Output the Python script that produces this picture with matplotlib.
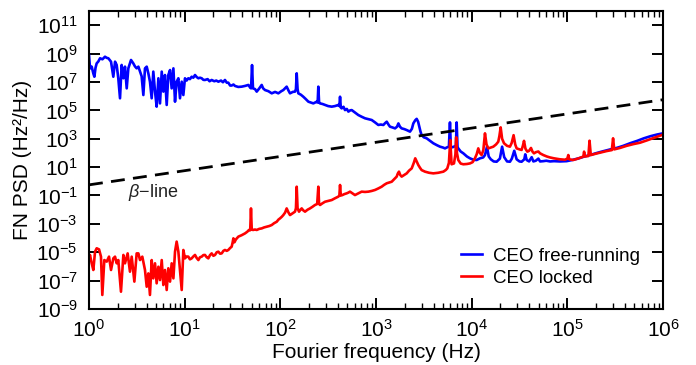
import numpy as np
import matplotlib
matplotlib.use("Agg")
import matplotlib.pyplot as plt
from matplotlib.ticker import FixedLocator, NullLocator, NullFormatter, LogFormatterSciNotation

plt.rcParams['font.family'] = ['Liberation Sans', 'DejaVu Sans']
plt.rcParams['mathtext.fontset'] = 'custom'
plt.rcParams['mathtext.rm'] = 'Liberation Sans'
plt.rcParams['mathtext.it'] = 'Liberation Sans:italic'
plt.rcParams['lines.scale_dashes'] = False

# Frequency-noise PSD, stored as log10(frequency / Hz) and log10(PSD / (Hz^2/Hz))
blue_log_f = [
    0.000, 0.008, 0.017, 0.028, 0.045, 0.056, 0.068, 0.080, 0.098, 0.115, 0.140, 0.167, 0.185, 0.202,
    0.230, 0.254, 0.272, 0.289, 0.306, 0.324, 0.341, 0.359, 0.376, 0.394, 0.411, 0.439, 0.463, 0.480,
    0.498, 0.516, 0.533, 0.550, 0.568, 0.585, 0.603, 0.620, 0.637, 0.655, 0.672, 0.690, 0.707, 0.725,
    0.742, 0.760, 0.777, 0.794, 0.812, 0.829, 0.847, 0.864, 0.882, 0.899, 0.916, 0.934, 0.951, 0.969,
    0.986, 1.003, 1.020, 1.038, 1.055, 1.073, 1.090, 1.108, 1.125, 1.143, 1.160, 1.178, 1.195, 1.212,
    1.240, 1.260, 1.282, 1.310, 1.330, 1.352, 1.380, 1.400, 1.421, 1.440, 1.456, 1.475, 1.491, 1.510,
    1.526, 1.560, 1.596, 1.630, 1.666, 1.685, 1.694, 1.704, 1.714, 1.735, 1.753, 1.780, 1.805, 1.820,
    1.840, 1.875, 1.910, 1.945, 1.979, 2.010, 2.031, 2.066, 2.085, 2.101, 2.130, 2.153, 2.163, 2.171,
    2.180, 2.188, 2.215, 2.240, 2.265, 2.293, 2.320, 2.345, 2.380, 2.390, 2.397, 2.405, 2.415, 2.440,
    2.467, 2.500, 2.537, 2.570, 2.606, 2.617, 2.624, 2.632, 2.641, 2.660, 2.676, 2.695, 2.711, 2.730,
    2.746, 2.780, 2.815, 2.850, 2.885, 2.920, 2.955, 2.990, 3.024, 3.050, 3.077, 3.095, 3.112, 3.130,
    3.146, 3.170, 3.199, 3.220, 3.234, 3.250, 3.268, 3.295, 3.321, 3.340, 3.355, 3.375, 3.390, 3.410,
    3.425, 3.440, 3.453, 3.465, 3.477, 3.500, 3.529, 3.565, 3.599, 3.635, 3.669, 3.700, 3.721, 3.745,
    3.762, 3.773, 3.782, 3.800, 3.815, 3.835, 3.843, 3.852, 3.860, 3.885, 3.913, 3.950, 3.982, 4.017,
    4.052, 4.087, 4.120, 4.139, 4.160, 4.178, 4.200, 4.230, 4.261, 4.295, 4.318, 4.340, 4.370, 4.400,
    4.420, 4.445, 4.470, 4.500, 4.522, 4.550, 4.560, 4.575, 4.600, 4.627, 4.645, 4.670, 4.697, 4.715,
    4.749, 4.780, 4.819, 4.860, 4.923, 4.993, 5.050, 5.120, 5.180, 5.237, 5.300, 5.375, 5.450, 5.515,
    5.585, 5.655, 5.730, 5.800, 5.870, 5.940, 6.000,
]
blue_log_psd = [
    8.90, 8.20, 7.96, 8.08, 7.60, 7.37, 8.00, 8.31, 8.45, 8.67, 8.60, 8.78, 8.70, 8.67,
    8.43, 7.37, 8.43, 8.20, 7.26, 5.85, 8.20, 7.26, 8.08, 6.55, 7.96, 8.55, 8.31, 8.10,
    7.96, 8.08, 7.73, 7.40, 6.08, 7.96, 8.08, 7.61, 7.02, 5.85, 7.73, 6.32, 5.26, 7.26,
    5.49, 7.73, 6.32, 7.49, 5.38, 7.49, 7.84, 6.55, 7.96, 5.61, 7.02, 7.26, 5.85, 7.02,
    6.08, 7.26, 7.10, 7.26, 7.20, 7.37, 7.30, 7.49, 7.35, 7.26, 7.30, 7.26, 7.15, 7.14,
    7.20, 7.05, 7.14, 7.05, 7.10, 7.02, 7.10, 6.98, 7.14, 6.95, 6.95, 6.75, 6.75, 6.82,
    6.72, 6.65, 6.67, 6.72, 6.79, 6.60, 6.55, 8.19, 6.55, 6.50, 6.32, 6.55, 6.79, 6.55,
    6.43, 6.35, 6.20, 6.30, 6.20, 6.35, 6.43, 6.67, 6.40, 6.20, 6.30, 6.32, 6.50, 7.61,
    6.50, 6.20, 6.10, 5.96, 5.80, 5.61, 5.55, 5.49, 5.61, 5.55, 6.67, 5.55, 5.49, 5.45,
    5.38, 5.30, 5.26, 5.30, 5.38, 5.30, 5.96, 5.20, 5.14, 5.25, 5.02, 5.10, 4.91, 5.00,
    5.02, 4.85, 4.67, 4.55, 4.44, 4.38, 4.32, 4.15, 3.97, 4.00, 3.97, 4.10, 4.20, 4.00,
    3.85, 3.80, 3.73, 3.85, 4.08, 3.85, 3.73, 3.68, 3.61, 3.55, 3.50, 3.70, 4.08, 4.30,
    4.40, 4.20, 3.85, 3.50, 3.26, 3.10, 3.03, 2.85, 2.68, 2.55, 2.44, 2.38, 2.32, 2.40,
    2.44, 4.15, 2.44, 2.40, 2.44, 2.50, 4.15, 2.40, 2.32, 2.10, 1.97, 1.75, 1.62, 1.52,
    1.50, 1.62, 1.68, 1.85, 2.44, 1.75, 1.55, 1.40, 1.38, 1.60, 2.44, 1.70, 1.40, 1.38,
    1.60, 2.15, 1.55, 1.40, 1.38, 1.55, 1.90, 1.50, 1.40, 1.70, 1.40, 1.45, 1.60, 1.40,
    1.42, 1.45, 1.40, 1.42, 1.40, 1.42, 1.50, 1.62, 1.75, 1.85, 1.98, 2.12, 2.25, 2.35,
    2.50, 2.68, 2.85, 3.03, 3.18, 3.30, 3.38,
]

red_log_f = [
    0.000, 0.010, 0.028, 0.045, 0.063, 0.080, 0.105, 0.125, 0.139, 0.160, 0.185, 0.209, 0.230, 0.254,
    0.272, 0.289, 0.306, 0.334, 0.359, 0.376, 0.404, 0.428, 0.446, 0.474, 0.498, 0.516, 0.533, 0.557,
    0.585, 0.603, 0.620, 0.637, 0.655, 0.672, 0.690, 0.707, 0.725, 0.742, 0.760, 0.777, 0.794, 0.812,
    0.829, 0.847, 0.864, 0.882, 0.899, 0.916, 0.934, 0.951, 0.969, 0.986, 1.003, 1.020, 1.038, 1.055,
    1.073, 1.090, 1.108, 1.125, 1.143, 1.160, 1.178, 1.195, 1.212, 1.230, 1.247, 1.265, 1.282, 1.300,
    1.317, 1.335, 1.352, 1.370, 1.387, 1.405, 1.421, 1.440, 1.456, 1.475, 1.491, 1.500, 1.509, 1.520,
    1.535, 1.561, 1.595, 1.631, 1.655, 1.672, 1.685, 1.693, 1.701, 1.714, 1.735, 1.753, 1.780, 1.805,
    1.830, 1.857, 1.885, 1.910, 1.935, 1.962, 1.980, 1.997, 2.015, 2.031, 2.050, 2.066, 2.085, 2.101,
    2.130, 2.153, 2.163, 2.171, 2.180, 2.195, 2.210, 2.223, 2.240, 2.258, 2.285, 2.310, 2.335, 2.362,
    2.385, 2.397, 2.405, 2.415, 2.440, 2.467, 2.500, 2.537, 2.570, 2.606, 2.617, 2.624, 2.632, 2.648,
    2.670, 2.693, 2.710, 2.728, 2.755, 2.780, 2.815, 2.850, 2.885, 2.920, 2.955, 2.990, 3.025, 3.059,
    3.085, 3.112, 3.140, 3.164, 3.190, 3.216, 3.228, 3.240, 3.253, 3.268, 3.295, 3.321, 3.345, 3.373,
    3.395, 3.410, 3.425, 3.442, 3.460, 3.477, 3.512, 3.555, 3.599, 3.650, 3.704, 3.730, 3.745, 3.762,
    3.776, 3.790, 3.815, 3.830, 3.838, 3.846, 3.860, 3.885, 3.913, 3.950, 3.982, 4.010, 4.034, 4.052,
    4.069, 4.085, 4.104, 4.122, 4.139, 4.155, 4.174, 4.200, 4.226, 4.255, 4.278, 4.290, 4.303, 4.318,
    4.338, 4.370, 4.400, 4.418, 4.438, 4.455, 4.470, 4.500, 4.522, 4.535, 4.547, 4.562, 4.582, 4.600,
    4.620, 4.635, 4.651, 4.670, 4.697, 4.715, 4.749, 4.785, 4.819, 4.860, 4.923, 4.975, 5.000, 5.010,
    5.020, 5.060, 5.110, 5.167, 5.175, 5.185, 5.220, 5.232, 5.245, 5.300, 5.360, 5.410, 5.465, 5.478,
    5.490, 5.550, 5.620, 5.690, 5.760, 5.830, 5.900, 5.960, 6.000,
]
red_log_psd = [
    -5.50, -5.19, -5.78, -6.25, -4.96, -4.72, -4.80, -5.31, -8.01, -5.55, -5.66, -5.31, -6.25, -5.43,
    -5.31, -5.78, -5.55, -7.78, -5.19, -5.78, -5.08, -6.37, -5.31, -7.07, -5.08, -5.08, -5.55, -5.31,
    -6.25, -7.43, -6.49, -8.01, -5.55, -6.84, -5.78, -7.19, -6.02, -6.96, -5.55, -7.31, -6.25, -7.66,
    -6.13, -7.07, -5.78, -6.84, -4.96, -4.25, -4.96, -6.25, -7.66, -4.84, -5.43, -5.30, -5.31, -5.50,
    -5.43, -5.30, -5.19, -5.40, -5.55, -5.35, -5.31, -5.20, -5.19, -5.35, -5.43, -5.20, -5.08, -5.25,
    -5.19, -5.00, -4.96, -5.10, -5.08, -4.90, -4.84, -4.90, -4.84, -4.70, -4.61, -4.35, -4.02, -4.30,
    -4.10, -3.90, -3.80, -3.67, -3.55, -3.43, -3.45, -1.91, -3.40, -3.43, -3.40, -3.43, -3.35, -3.32,
    -3.25, -3.20, -3.15, -3.08, -2.95, -2.85, -2.70, -2.61, -2.50, -2.38, -2.20, -1.91, -2.20, -2.38,
    -2.25, -2.14, -1.90, -0.38, -1.90, -2.14, -2.00, -1.91, -2.05, -2.14, -2.00, -1.91, -1.80, -1.67,
    -1.60, -0.38, -1.60, -1.67, -1.55, -1.44, -1.38, -1.32, -1.20, -1.08, -1.00, -0.26, -1.00, -0.97,
    -0.90, -0.85, -0.80, -0.73, -0.85, -0.97, -0.85, -0.73, -0.75, -0.73, -0.68, -0.61, -0.50, -0.38,
    -0.25, -0.14, -0.08, -0.03, 0.15, 0.33, 0.55, 0.68, 0.45, 0.33, 0.45, 0.56, 0.75, 0.91,
    1.30, 1.62, 1.40, 1.15, 0.95, 0.79, 0.68, 0.60, 0.56, 0.60, 0.68, 0.80, 0.91, 1.30,
    2.90, 1.20, 1.26, 1.90, 3.10, 2.00, 1.50, 1.25, 1.20, 1.22, 1.26, 1.35, 1.62, 1.90,
    2.32, 2.00, 1.85, 2.20, 3.38, 2.60, 2.32, 2.38, 2.44, 2.60, 2.79, 3.20, 3.80, 3.00,
    2.68, 2.50, 2.44, 2.70, 3.25, 2.60, 2.32, 2.25, 2.21, 2.50, 2.85, 2.30, 2.09, 2.15,
    2.35, 2.10, 1.97, 2.05, 2.10, 1.97, 1.85, 1.75, 1.68, 1.62, 1.55, 1.52, 1.60, 1.85,
    1.55, 1.50, 1.60, 1.74, 2.09, 1.75, 1.78, 2.86, 1.85, 1.95, 2.05, 2.13, 2.20, 3.03,
    2.25, 2.35, 2.50, 2.62, 2.72, 2.88, 3.05, 3.20, 3.29,
]

# beta-separation line end points
beta_f = [1.0, 1.0e6]
beta_psd = [0.562, 5.62e5]

series_labels = ['CEO free-running', 'CEO locked']
x_tick_values = [1e0, 1e1, 1e2, 1e3, 1e4, 1e5, 1e6]
y_tick_values = [1e-9, 1e-7, 1e-5, 1e-3, 1e-1, 1e1, 1e3, 1e5, 1e7, 1e9, 1e11]

fig = plt.figure(figsize=(6.96, 3.65), dpi=100)
ax = fig.add_axes([0.1279, 0.1534, 0.8247, 0.8164])

ax.plot(10 ** np.array(blue_log_f), 10 ** np.array(blue_log_psd), color='#0000ff', lw=1.9,
        label=series_labels[0])
ax.plot(10 ** np.array(red_log_f), 10 ** np.array(red_log_psd), color='#ff0000', lw=1.9,
        label=series_labels[1])
ax.plot(beta_f, beta_psd, color='black', lw=2.0, dashes=(10, 6))

ax.set_xscale('log')
ax.set_yscale('log')
ax.set_xlim(1, 1e6)
ax.set_ylim(1e-9, 1e12)

# decade ticks on x with 2..9 minor ticks in between
minor_x = [m * d for d in x_tick_values[:-1] for m in range(2, 10)]
ax.xaxis.set_major_locator(FixedLocator(x_tick_values))
ax.xaxis.set_major_formatter(LogFormatterSciNotation())
ax.xaxis.set_minor_locator(FixedLocator(minor_x))
ax.xaxis.set_minor_formatter(NullFormatter())

ax.yaxis.set_major_locator(FixedLocator(y_tick_values))
ax.yaxis.set_major_formatter(LogFormatterSciNotation())
ax.yaxis.set_minor_locator(NullLocator())

ax.tick_params(which='both', direction='in', top=True, right=True, labelsize=15)
ax.tick_params(which='major', length=8, width=1.4)
ax.tick_params(which='minor', length=4, width=1.0)
ax.tick_params(axis='x', which='major', pad=7)
ax.tick_params(axis='y', which='major', pad=8)
for sp in ax.spines.values():
    sp.set_linewidth(1.5)

ax.set_xlabel('Fourier frequency (Hz)', fontsize=15, labelpad=2)
ax.set_ylabel('FN PSD (Hz²/Hz)', fontsize=15, labelpad=3)

ax.text(2.55, 0.15, r'$\beta$−line', fontsize=13, ha='left', va='center', color='#222222')

ax.legend(loc='upper left', bbox_to_anchor=(0.648, 0.205), frameon=False, fontsize=13.5,
          handlelength=1.1, handletextpad=0.6, labelspacing=0.25, borderpad=0, borderaxespad=0)

fig.savefig('out.png', dpi=100)
